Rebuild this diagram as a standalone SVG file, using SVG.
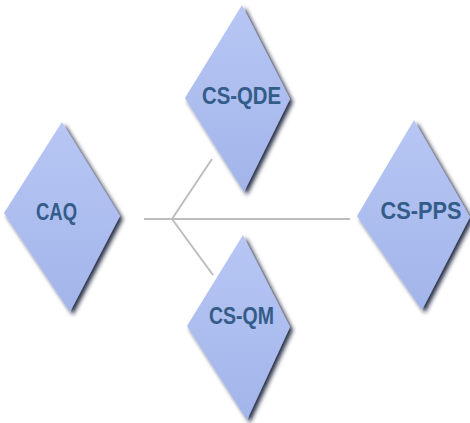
<svg xmlns="http://www.w3.org/2000/svg" width="470" height="423" viewBox="0 0 470 423">
<style>
.d{fill:url(#g);filter:url(#sh)}
.t{font-family:"Liberation Sans",Arial,sans-serif;font-size:24px;font-weight:bold;fill:#335c89;text-anchor:middle}
.c{stroke:#bdbdbd;stroke-width:2;fill:none}
</style>
<defs>
<linearGradient id="g" x1="0" y1="0" x2="0" y2="1">
<stop offset="0" stop-color="#b7c6f4"/>
<stop offset="1" stop-color="#a2b5ea"/>
</linearGradient>
<filter id="sh" x="-20%" y="-20%" width="140%" height="140%">
<feGaussianBlur in="SourceAlpha" stdDeviation="2.2" result="b"/>
<feOffset in="b" dx="3" dy="3" result="o"/>
<feFlood flood-color="#141a35" flood-opacity="0.9"/>
<feComposite in2="o" operator="in" result="s"/>
<feMerge><feMergeNode in="s"/><feMergeNode in="SourceGraphic"/></feMerge>
</filter>
</defs>
<rect width="470" height="423" fill="#ffffff"/>
<g id="connectors">
<line class="c" x1="144" y1="219" x2="350" y2="219"/>
<line class="c" x1="172" y1="219" x2="212" y2="159"/>
<line class="c" x1="172" y1="219" x2="213" y2="275"/>
</g>
<g id="CS-QDE">
<polygon class="d" points="242,5 290,99 244,192 185,98"/>
<text class="t" x="241.5" y="104" textLength="79" lengthAdjust="spacingAndGlyphs">CS-QDE</text>
</g>
<g id="CAQ">
<polygon class="d" points="62,122 120,216 70,312 4,213"/>
<text class="t" x="56.5" y="220" textLength="41" lengthAdjust="spacingAndGlyphs">CAQ</text>
</g>
<g id="CS-PPS">
<polygon class="d" points="414,120 470,217 422,310 357,216"/>
<text class="t" x="421" y="219" textLength="81" lengthAdjust="spacingAndGlyphs">CS-PPS</text>
</g>
<g id="CS-QM">
<polygon class="d" points="243,235 290,327 247,420 187,326"/>
<text class="t" x="241.5" y="324" textLength="65" lengthAdjust="spacingAndGlyphs">CS-QM</text>
</g>
</svg>
